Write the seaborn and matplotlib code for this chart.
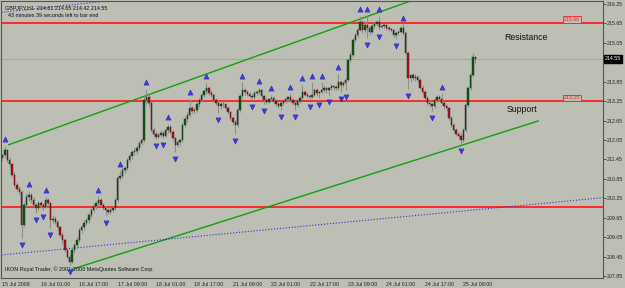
import numpy as np
import pandas as pd
import matplotlib
matplotlib.use("Agg")
import matplotlib.pyplot as plt
import seaborn as sns

# GBPJPY H1 bars, 15 Jul 2008 09:00 .. 25 Jul 2008 14:00
opens = [
    211.50, 211.59, 211.74, 211.44, 211.30, 210.97, 210.66, 210.55, 210.45, 209.43,
    210.05, 210.30, 210.35, 210.20, 210.05, 209.95, 210.10, 210.05, 209.98, 210.20,
    210.10, 209.58, 209.62, 209.52, 209.35, 209.12, 208.95, 208.66, 208.45, 208.29,
    208.66, 208.80, 208.97, 209.27, 209.35, 209.50, 209.58, 209.75, 209.89, 210.00,
    210.11, 210.20, 210.05, 209.95, 209.90, 209.83, 209.90, 209.95, 210.20, 210.88,
    210.95, 211.13, 211.20, 211.44, 211.55, 211.68, 211.72, 211.80, 211.95, 212.05,
    213.29, 213.38, 213.19, 212.36, 212.25, 212.14, 212.20, 212.27, 212.18, 212.35,
    212.45, 212.30, 212.10, 211.90, 211.98, 212.05, 212.51, 212.70, 212.82, 213.04,
    212.95, 212.98, 213.15, 213.29, 213.44, 213.55, 213.66, 213.50, 213.44, 213.29,
    213.20, 213.10, 213.15, 213.16, 213.04, 212.90, 212.73, 212.60, 212.51, 212.98,
    213.40, 213.60, 213.53, 213.47, 213.40, 213.38, 213.50, 213.53, 213.60, 213.40,
    213.29, 213.22, 213.30, 213.35, 213.25, 213.16, 213.10, 213.20, 213.26, 213.32,
    213.38, 213.29, 213.20, 213.13, 213.25, 213.35, 213.53, 213.45, 213.41, 213.38,
    213.45, 213.60, 213.50, 213.52, 213.60, 213.66, 213.60, 213.65, 213.72, 213.68,
    213.66, 213.84, 213.75, 213.82, 213.90, 214.52, 214.68, 215.14, 215.30, 215.45,
    215.69, 215.45, 215.60, 215.50, 215.39, 215.57, 215.63, 215.69, 215.54, 215.58,
    215.60, 215.51, 215.48, 215.45, 215.29, 215.35, 215.39, 215.50, 215.35, 214.75,
    213.95, 214.06, 213.97, 214.00, 213.90, 213.66, 213.53, 213.35, 213.19, 213.15,
    213.10, 213.29, 213.38, 213.30, 213.19, 213.10, 213.04, 212.73, 212.51, 212.36,
    212.25, 212.18, 212.05, 212.36, 213.13, 213.66, 214.06, 214.61,
]
highs = [
    211.62, 211.87, 211.78, 211.52, 211.35, 211.05, 210.75, 210.62, 210.50, 210.15,
    210.40, 210.48, 210.42, 210.28, 210.12, 210.18, 210.16, 210.10, 210.30, 210.25,
    210.14, 209.75, 209.70, 209.58, 209.40, 209.20, 209.02, 208.75, 208.52, 208.72,
    208.88, 209.05, 209.32, 209.42, 209.58, 209.65, 209.82, 209.95, 210.08, 210.18,
    210.32, 210.25, 210.12, 210.02, 209.96, 209.98, 210.02, 210.26, 210.95, 211.10,
    211.18, 211.26, 211.50, 211.62, 211.75, 211.80, 211.88, 212.02, 212.12, 213.40,
    213.63, 213.48, 213.25, 212.45, 212.32, 212.28, 212.36, 212.32, 212.42, 212.55,
    212.50, 212.36, 212.15, 212.05, 212.12, 212.58, 212.78, 212.90, 213.32, 213.10,
    213.05, 213.22, 213.35, 213.50, 213.62, 213.81, 213.72, 213.58, 213.50, 213.36,
    213.25, 213.24, 213.25, 213.20, 213.10, 212.96, 212.80, 212.68, 213.05, 213.46,
    213.84, 213.66, 213.60, 213.52, 213.46, 213.56, 213.58, 213.66, 213.63, 213.45,
    213.34, 213.36, 213.45, 213.40, 213.30, 213.22, 213.26, 213.32, 213.38, 213.42,
    213.50, 213.34, 213.24, 213.30, 213.40, 213.75, 213.60, 213.52, 213.46, 213.84,
    213.66, 213.64, 213.56, 213.84, 213.75, 213.70, 213.68, 213.78, 213.76, 213.74,
    214.09, 213.88, 213.86, 213.95, 214.58, 214.76, 215.20, 215.36, 215.52, 215.88,
    215.74, 215.70, 215.88, 215.58, 215.62, 215.70, 215.76, 215.88, 215.64, 215.66,
    215.64, 215.56, 215.52, 215.48, 215.40, 215.45, 215.56, 215.62, 215.40, 214.80,
    214.10, 214.12, 214.08, 214.05, 213.95, 213.74, 213.60, 213.42, 213.28, 213.20,
    213.34, 213.44, 213.45, 213.50, 213.24, 213.15, 213.08, 212.80, 212.58, 212.42,
    212.30, 212.26, 212.42, 213.20, 213.72, 214.12, 214.72, 214.65,
]
lows = [
    211.40, 211.52, 211.38, 211.22, 210.90, 210.60, 210.48, 210.38, 209.03, 209.35,
    209.98, 210.18, 210.10, 209.98, 209.80, 209.90, 209.96, 209.88, 209.95, 210.02,
    209.34, 209.48, 209.45, 209.28, 209.05, 208.85, 208.58, 208.38, 208.19, 208.24,
    208.55, 208.72, 208.90, 209.18, 209.28, 209.42, 209.50, 209.68, 209.82, 209.92,
    210.05, 209.98, 209.88, 209.71, 209.76, 209.78, 209.84, 209.90, 210.15, 210.80,
    210.88, 211.02, 211.12, 211.38, 211.46, 211.58, 211.62, 211.74, 211.88, 212.00,
    213.15, 213.08, 212.30, 212.18, 212.08, 212.10, 212.15, 212.12, 212.15, 212.28,
    212.22, 212.02, 211.68, 211.82, 211.90, 212.00, 212.45, 212.62, 212.76, 212.88,
    212.86, 212.92, 213.08, 213.22, 213.38, 213.48, 213.45, 213.38, 213.22, 213.14,
    212.89, 213.02, 213.08, 212.98, 212.84, 212.66, 212.52, 212.24, 212.45, 212.92,
    213.35, 213.45, 213.40, 213.34, 213.28, 213.32, 213.44, 213.48, 213.34, 213.15,
    213.16, 213.18, 213.24, 213.18, 213.10, 213.04, 212.98, 213.14, 213.20, 213.26,
    213.24, 213.14, 212.98, 213.08, 213.20, 213.30, 213.40, 213.36, 213.30, 213.34,
    213.40, 213.40, 213.36, 213.46, 213.54, 213.50, 213.44, 213.58, 213.60, 213.58,
    213.60, 213.53, 213.68, 213.60, 213.86, 214.45, 214.62, 215.06, 215.22, 215.40,
    215.36, 215.38, 215.20, 215.30, 215.34, 215.50, 215.56, 215.46, 215.50, 215.52,
    215.46, 215.42, 215.38, 215.24, 215.17, 215.28, 215.34, 215.30, 214.70, 213.62,
    213.85, 213.90, 213.88, 213.82, 213.62, 213.46, 213.30, 213.12, 213.06, 212.95,
    213.05, 213.22, 213.25, 213.12, 213.02, 212.95, 212.66, 212.45, 212.30, 212.18,
    212.10, 211.92, 212.00, 212.30, 213.08, 213.60, 214.00, 214.42,
]
closes = [
    211.59, 211.74, 211.44, 211.30, 210.97, 210.66, 210.55, 210.45, 209.43, 210.05,
    210.30, 210.35, 210.20, 210.05, 209.95, 210.10, 210.05, 209.98, 210.20, 210.10,
    209.58, 209.62, 209.52, 209.35, 209.12, 208.95, 208.66, 208.45, 208.29, 208.66,
    208.80, 208.97, 209.27, 209.35, 209.50, 209.58, 209.75, 209.89, 210.00, 210.11,
    210.20, 210.05, 209.95, 209.90, 209.83, 209.90, 209.95, 210.20, 210.88, 210.95,
    211.13, 211.20, 211.44, 211.55, 211.68, 211.72, 211.80, 211.95, 212.05, 213.29,
    213.38, 213.19, 212.36, 212.25, 212.14, 212.20, 212.27, 212.18, 212.35, 212.45,
    212.30, 212.10, 211.90, 211.98, 212.05, 212.51, 212.70, 212.82, 213.04, 212.95,
    212.98, 213.15, 213.29, 213.44, 213.55, 213.66, 213.50, 213.44, 213.29, 213.20,
    213.10, 213.15, 213.16, 213.04, 212.90, 212.73, 212.60, 212.51, 212.98, 213.40,
    213.60, 213.53, 213.47, 213.40, 213.38, 213.50, 213.53, 213.60, 213.40, 213.29,
    213.22, 213.30, 213.35, 213.25, 213.16, 213.10, 213.20, 213.26, 213.32, 213.38,
    213.29, 213.20, 213.13, 213.25, 213.35, 213.53, 213.45, 213.41, 213.38, 213.45,
    213.60, 213.50, 213.52, 213.60, 213.66, 213.60, 213.65, 213.72, 213.68, 213.66,
    213.84, 213.75, 213.82, 213.90, 214.52, 214.68, 215.14, 215.30, 215.45, 215.69,
    215.45, 215.60, 215.50, 215.39, 215.57, 215.63, 215.69, 215.54, 215.58, 215.60,
    215.51, 215.48, 215.45, 215.29, 215.35, 215.39, 215.50, 215.35, 214.75, 213.95,
    214.06, 213.97, 214.00, 213.90, 213.66, 213.53, 213.35, 213.19, 213.15, 213.10,
    213.29, 213.38, 213.30, 213.19, 213.10, 213.04, 212.73, 212.51, 212.36, 212.25,
    212.18, 212.05, 212.36, 213.13, 213.66, 214.06, 214.61, 214.55,
]

# Bill Williams fractals (bar indices)
fractal_up = [1, 11, 18, 40, 49, 60, 69, 78, 85, 100, 107, 112, 120, 125, 129,
              133, 140, 149, 152, 157, 167, 183]
fractal_down = [8, 14, 17, 20, 28, 43, 64, 67, 72, 90, 97, 104, 109, 116, 122,
                128, 132, 136, 141, 143, 152, 157, 164, 169, 179, 191]

# horizontal levels and trend lines (bar index, price)
resistance = 215.66
support = 213.25
low_level = 209.98
bid = 214.55
upper_channel = [(2.5, 211.90), (170.0, 216.34)]
lower_channel = [(29.0, 208.06), (223.3, 212.64)]
blue_low = [(-0.4, 208.50), (250.2, 210.27)]
blue_high = [(-0.4, 215.99), (50.0, 216.39)]

price_ticks = [216.25, 215.65, 215.05, 214.45, 213.85, 213.25, 212.65, 212.05,
               211.45, 210.85, 210.25, 209.65, 209.05, 208.45, 207.85]
time_tick_bars = [0, 16, 32, 48, 64, 80, 96, 112, 128, 144, 160, 176, 192]
time_tick_labels = ['15 Jul 2008', '16 Jul 01:00', '16 Jul 17:00', '17 Jul 09:00',
                    '18 Jul 01:00', '18 Jul 17:00', '21 Jul 09:00', '22 Jul 01:00',
                    '22 Jul 17:00', '23 Jul 09:00', '24 Jul 01:00', '24 Jul 17:00',
                    '25 Jul 09:00']

bars = pd.DataFrame({'open': opens, 'high': highs, 'low': lows, 'close': closes})
bars['bar'] = np.arange(len(bars))
bars['bull'] = bars['close'] >= bars['open']

BG = '#bdbfb5'
sns.set_style('white', {'axes.facecolor': BG, 'figure.facecolor': BG})
plt.rcParams['font.family'] = ['Liberation Sans', 'DejaVu Sans']

W, H = 625, 288
fig = plt.figure(figsize=(W / 100, H / 100), dpi=100)
ax = fig.add_axes([1.5 / W, 10 / H, 601.5 / W, 277 / H])
ax.set_xlim(-0.4, 250.2)
ax.set_ylim(207.79, 216.34)

# levels
for lvl in (resistance, support, low_level):
    ax.axhline(lvl, color='#ff2020', lw=1.3, zorder=1)
ax.axhline(bid, color='#9a9a9a', lw=0.5, zorder=1)

for pts, col, ls, lw in [(upper_channel, '#10a010', '-', 1.0),
                         (lower_channel, '#10a010', '-', 1.0),
                         (blue_low, '#3030d0', ':', 0.8),
                         (blue_high, '#3030d0', ':', 0.8)]:
    d = pd.DataFrame(pts, columns=['bar', 'price'])
    sns.lineplot(data=d, x='bar', y='price', color=col, ls=ls, lw=lw, ax=ax, zorder=2)

# candles
ax.vlines(bars['bar'], bars['low'], bars['high'], color='#8e8e8e', lw=0.8, zorder=3)
body_lo = bars[['open', 'close']].min(axis=1)
body_h = (bars['close'] - bars['open']).abs().clip(lower=0.015)
ax.bar(bars['bar'], body_h, bottom=body_lo, width=0.62,
       color=np.where(bars['bull'], '#0d5a14', '#b3121a'),
       edgecolor=np.where(bars['bull'], '#1a2a1a', '#3a1010'), lw=0.3, zorder=4)

# fractal arrows
up = bars.loc[fractal_up, ['bar', 'high']].assign(y=lambda d: d['high'] + 0.2)
dn = bars.loc[fractal_down, ['bar', 'low']].assign(y=lambda d: d['low'] - 0.22)
sns.scatterplot(data=up, x='bar', y='y', marker='^', s=14, color='#3b3bf0',
                edgecolor='#1a1a90', linewidth=0.3, ax=ax, zorder=5)
sns.scatterplot(data=dn, x='bar', y='y', marker='v', s=14, color='#3b3bf0',
                edgecolor='#1a1a90', linewidth=0.3, ax=ax, zorder=5)

# axes look
for s in ax.spines.values():
    s.set_color('#555555')
    s.set_linewidth(0.8)
ax.yaxis.tick_right()
ax.set_yticks(price_ticks)
ax.set_yticklabels([f'{p:.2f}' for p in price_ticks])
ax.set_xticks(time_tick_bars)
ax.set_xticklabels(time_tick_labels, ha='left')
ax.tick_params(axis='both', labelsize=3.8, colors='#222222', length=2, width=0.5, pad=1)
ax.set_xlabel('')
ax.set_ylabel('')

# texts
ax.text(0.005, 0.985, 'GBPJPY,H1  214.61 214.65 214.42 214.55', transform=ax.transAxes,
        fontsize=3.9, color='#111111', va='top')
ax.text(0.01, 0.955, '43 minutes 39 seconds left to bar end', transform=ax.transAxes,
        fontsize=3.9, color='#111111', va='top')
ax.text(0.005, 0.02, 'IKON Royal Trader, \u00a9 2001-2008 MetaQuotes Software Corp.',
        transform=ax.transAxes, fontsize=3.9, color='#111111', va='bottom')
ax.text(209, 215.2, 'Resistance', fontsize=6.3, color='#111111', va='center')
ax.text(210, 213.0, 'Support', fontsize=6.3, color='#111111', va='center')
for lvl in (resistance, support):
    ax.text(234, lvl + 0.1, f'{lvl:.2f}', fontsize=3.8, color='#ff2020', va='center',
            bbox=dict(boxstyle='square,pad=0.15', fc=BG, ec='#ff2020', lw=0.6))
ax.text(251.0, bid, f'{bid:.2f}', fontsize=3.8, color='white', va='center',
        bbox=dict(boxstyle='square,pad=0.2', fc='black', ec='black'), clip_on=False)

fig.savefig('out.png', dpi=100, facecolor=BG)
